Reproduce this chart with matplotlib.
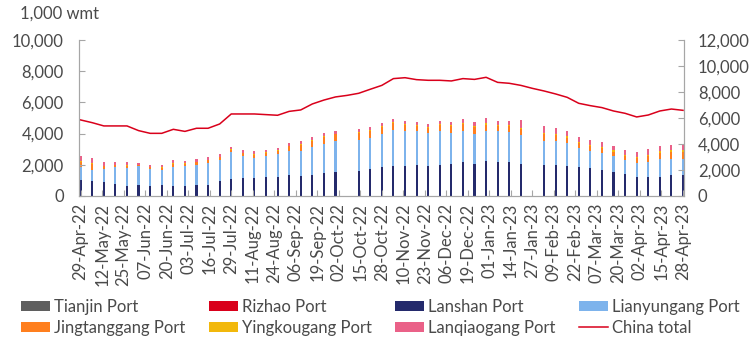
import numpy as np
import pandas as pd
import matplotlib
matplotlib.use('Agg')
import matplotlib.pyplot as plt
import matplotlib.dates as mdates
from matplotlib.patches import Patch
from matplotlib.lines import Line2D
from matplotlib.ticker import FuncFormatter

plt.rcParams['font.family'] = ['Lato', 'DejaVu Sans']

# weekly data, 29-Apr-22 .. 28-Apr-23 (no report in the National Day and Spring Festival weeks)
weeks = pd.date_range('2022-04-29', '2023-04-28', freq='7D')
tick_dates = pd.date_range('2022-04-29', '2023-04-28', freq='13D')

nan = np.nan
tianjin = [0] * 53
rizhao = [0] * 53
lanshan = [1030, 960, 900, 770, 640, 700, 640, 700, 640, 640, 700, 700, 960, 1090, 1150, 1150,
           1220, 1220, 1350, 1280, 1350, 1470, 1540, nan, 1600, 1730, 1860, 1920, 1920, 1990,
           1920, 1990, 2050, 2180, 2050, 2240, 2180, 2180, 2050, nan, 1990, 1990, 1920, 1860,
           1820, 1670, 1540, 1410, 1220, 1220, 1220, 1350, 1350]
lianyungang = [850, 710, 810, 1070, 1150, 1220, 1090, 980, 1200, 1300, 1280, 1390, 1350, 1750,
               1410, 1280, 1350, 1500, 1540, 1620, 1800, 1880, 1990, nan, 1990, 2010, 2120, 2310,
               2240, 2180, 2120, 2180, 1990, 1990, 1920, 1920, 1970, 1920, 1860, nan, 1540, 1540,
               1470, 1220, 1070, 1090, 1030, 900, 920, 960, 1130, 1030, 1030]
jingtanggang = [300, 380, 200, 140, 160, 60, 100, 120, 220, 130, 180, 190, 180, 130, 180, 230,
                190, 180, 300, 380, 400, 450, 430, nan, 460, 440, 460, 430, 380, 340, 340, 380,
                430, 440, 460, 420, 320, 360, 360, nan, 420, 360, 340, 310, 310, 300, 270, 260,
                280, 360, 400, 430, 450]
yingkougang = [60, 60, 40, 30, 30, 20, 20, 30, 40, 30, 30, 30, 30, 30, 30, 40, 30, 30, 40, 50,
               50, 50, 40, nan, 50, 50, 50, 60, 60, 50, 50, 60, 60, 80, 80, 130, 80, 90, 110, nan,
               120, 110, 100, 90, 90, 90, 90, 90, 100, 110, 110, 110, 110]
lanqiaogang = [320, 330, 230, 170, 190, 110, 140, 150, 210, 140, 170, 190, 170, 140, 170, 180,
               160, 150, 170, 190, 190, 180, 170, nan, 200, 190, 200, 220, 200, 190, 190, 200,
               220, 250, 230, 280, 260, 260, 490, nan, 420, 360, 330, 310, 310, 320, 280, 290,
               300, 360, 340, 360, 380]
china_total = [5850, 5640, 5390, 5390, 5390, 5030, 4820, 4820, 5130, 4970, 5210, 5210, 5540,
               6310, 6310, 6310, 6260, 6210, 6510, 6620, 7080, 7380, 7620, 7740, 7900, 8210,
               8510, 9030, 9100, 8950, 8900, 8900, 8850, 9030, 8970, 9130, 8740, 8670, 8510,
               8280, 8080, 7850, 7590, 7130, 6950, 6800, 6540, 6360, 6080, 6230, 6540, 6690, 6590]

ports = ['Tianjin Port', 'Rizhao Port', 'Lanshan Port', 'Lianyungang Port',
         'Jingtanggang Port', 'Yingkougang Port', 'Lanqiaogang Port']
series = [tianjin, rizhao, lanshan, lianyungang, jingtanggang, yingkougang, lanqiaogang]
colors = ['#5f5f5f', '#d9001b', '#242a6c', '#7db3ec', '#ff7f1e', '#f2b80c', '#ea6188']
line_color = '#d9001b'
grey = '#a6a6a6'
text_color = '#4a4a4a'

fig = plt.figure(figsize=(7.5, 3.44), dpi=100)
ax = fig.add_axes([79 / 750, 1 - 196 / 344, 605 / 750, 156 / 344])
ax2 = ax.twinx()

bottom = np.zeros(len(weeks))
for vals, c in zip(series, colors):
    vals = np.array(vals, dtype=float)
    ax.bar(weeks, vals, width=1.3, bottom=bottom, color=c, linewidth=0)
    bottom = bottom + vals

ax2.plot(weeks, china_total, color=line_color, lw=1.1)

ax.set_ylim(0, 10000)
ax.set_yticks(range(0, 10001, 2000))
ax2.set_ylim(0, 12000)
ax2.set_yticks(range(0, 12001, 2000))
ax.set_xlim(weeks[0] - pd.Timedelta(days=1), weeks[-1] + pd.Timedelta(days=0.6))
ax.set_xticks(tick_dates)
ax.xaxis.set_major_formatter(mdates.DateFormatter('%d-%b-%y'))

fmt = FuncFormatter(lambda v, p: f'{v:,.0f}')
ax.yaxis.set_major_formatter(fmt)
ax2.yaxis.set_major_formatter(fmt)

for a in (ax, ax2):
    for s in a.spines.values():
        s.set_color(grey)
    a.spines['top'].set_visible(False)
ax.tick_params(axis='x', direction='in', length=4, color=grey, labelsize=12,
               labelcolor=text_color, rotation=90, pad=5)
ax.tick_params(axis='y', direction='in', length=4, color=grey, labelsize=12,
               labelcolor=text_color, pad=11)
ax2.tick_params(axis='y', direction='in', length=4, color=grey, labelsize=12,
                labelcolor=text_color, pad=10)

fig.text(20 / 750, 1 - 14 / 344, '1,000 wmt', fontsize=12, color=text_color, va='center')

handles = [Patch(facecolor=c, edgecolor='none') for c in colors]
handles.append(Line2D([], [], color=line_color, lw=1.1))
labels = ports + ['China total']
order = [0, 4, 1, 5, 2, 6, 3, 7]
fig.legend([handles[i] for i in order], [labels[i] for i in order], ncol=4,
           loc='upper left', bbox_to_anchor=(14 / 750, 1 - 292 / 344), frameon=False,
           fontsize=12, labelcolor=text_color, handlelength=1.75, handleheight=0.5,
           handletextpad=0.25, columnspacing=1.4, labelspacing=0.3, borderaxespad=0)

fig.savefig('out.png', dpi=100)
